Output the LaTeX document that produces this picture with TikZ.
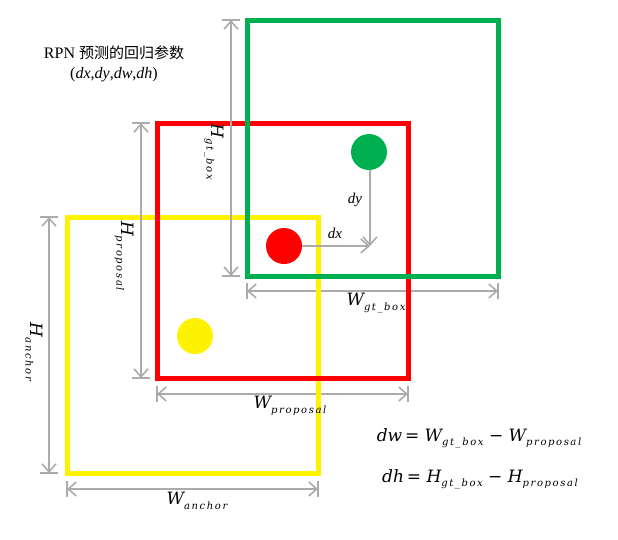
\documentclass[tikz,border=0pt]{standalone}
\usepackage{fontspec}
\setmainfont{Liberation Serif}
\newfontfamily\cjk{Noto Sans CJK SC}
\newfontfamily\labf{DejaVu Serif}
\newfontfamily\subf{DejaVu Serif}[LetterSpace=16]
\usetikzlibrary{arrows.meta,calc}
\definecolor{boxgreen}{HTML}{00B050}
\definecolor{dimgray}{HTML}{ABABAB}
\newcommand{\symb}[2]{{\labf\itshape\fontsize{17}{17}\selectfont #1}{\subf\itshape\fontsize{10}{10}\selectfont\raisebox{-4.5pt}{#2}}}
\pgfdeclarelayer{bg}
\pgfsetlayers{bg,main}
\begin{document}
\begin{tikzpicture}[x=1pt,y=-1pt,
  box/.style={draw, line width=5pt, inner sep=0, outer sep=0, minimum width=251pt, minimum height=256pt},
  dot/.style={circle, inner sep=0, outer sep=0, minimum size=36pt},
  dimline/.style={draw=dimgray, line width=1.6pt, {Straight Barb[length=8pt,width=14pt]}-{Straight Barb[length=8pt,width=14pt]}},
  tickline/.style={draw=dimgray, line width=1.6pt},
  moveline/.style={draw=dimgray, line width=1.6pt, -{Straight Barb[length=8pt,width=14pt]}},
  lbl/.style={inner sep=0, outer sep=0}]
\useasboundingbox (0,0) rectangle (618,539);

% boxes
\node[box, draw=yellow] (anc) at (192.5,345) {};
\node[box, draw=red, minimum height=255pt] (prop) at (282.5,250.5) {};
\node[box, draw=boxgreen] (gt) at (372.5,148) {};

% dots
\node[dot, fill=yellow] (ydot) at (195,336) {};
\node[dot, fill=red] (rdot) at (284,246) {};
\node[dot, fill=boxgreen] (gdot) at (369,152) {};

% offsets
\coordinate (meet) at (370,246);
\draw[moveline] (rdot.east) -- (meet);
\draw[moveline] (gdot.south -| meet) -- (meet);
\node[lbl, font=\fontsize{15}{15}\selectfont\itshape] (dxl) at (335,233) {dx};
\node[lbl, font=\fontsize{15}{15}\selectfont\itshape] (dyl) at (355,200) {dy};

% H gt_box
\coordinate (hg1) at ([xshift=-16pt]gt.north west);
\coordinate (hg2) at ([xshift=-16pt]gt.south west);
\draw[dimline] (hg1) -- (hg2);
\draw[tickline] ([xshift=-9pt]hg1) -- ([xshift=9pt]hg1);
\draw[tickline] ([xshift=-9pt]hg2) -- ([xshift=9pt]hg2);
\node[lbl, rotate=-90] (hgl) at (214,152) {\symb{H}{gt\_box}};

% W gt_box
\begin{pgfonlayer}{bg}
\coordinate (wg1) at ([yshift=-15pt]gt.south west);
\coordinate (wg2) at ([yshift=-15pt]gt.south east);
\draw[dimline] (wg1) -- (wg2);
\draw[tickline] ([yshift=-8pt]wg1) -- ([yshift=8pt]wg1);
\draw[tickline] ([yshift=-8pt]wg2) -- ([yshift=8pt]wg2);
\end{pgfonlayer}
\node[lbl] (wgl) at (376,303) {\symb{W}{gt\_box}};

% H proposal
\coordinate (hp1) at ([xshift=-16pt]prop.north west);
\coordinate (hp2) at ([xshift=-16pt]prop.south west);
\draw[dimline] (hp1) -- (hp2);
\draw[tickline] ([xshift=-9pt]hp1) -- ([xshift=9pt]hp1);
\draw[tickline] ([xshift=-9pt]hp2) -- ([xshift=9pt]hp2);
\node[lbl, rotate=-90] (hpl) at (124,256) {\symb{H}{proposal}};

% W proposal
\begin{pgfonlayer}{bg}
\coordinate (wp1) at ([yshift=-16pt]prop.south west);
\coordinate (wp2) at ([yshift=-16pt]prop.south east);
\draw[dimline] (wp1) -- (wp2);
\draw[tickline] ([yshift=-8pt]wp1) -- ([yshift=8pt]wp1);
\draw[tickline] ([yshift=-8pt]wp2) -- ([yshift=8pt]wp2);
\end{pgfonlayer}
\node[lbl] (wpl) at (290,406) {\symb{W}{proposal}};

% H anchor
\coordinate (ha1) at ([xshift=-18pt]anc.north west);
\coordinate (ha2) at ([xshift=-18pt]anc.south west);
\draw[dimline] (ha1) -- (ha2);
\draw[tickline] ([xshift=-9pt]ha1) -- ([xshift=9pt]ha1);
\draw[tickline] ([xshift=-9pt]ha2) -- ([xshift=9pt]ha2);
\node[lbl, rotate=-90] (hal) at (34,352) {\symb{H}{anchor}};

% W anchor
\coordinate (wa1) at ([yshift=-16pt]anc.south west);
\coordinate (wa2) at ([yshift=-16pt]anc.south east);
\draw[dimline] (wa1) -- (wa2);
\draw[tickline] ([yshift=-8pt]wa1) -- ([yshift=8pt]wa1);
\draw[tickline] ([yshift=-8pt]wa2) -- ([yshift=8pt]wa2);
\node[lbl] (wal) at (197,501) {\symb{W}{anchor}};

% title
\node[lbl, font=\fontsize{16}{16}\selectfont] (t1) at (114,53) {RPN {\cjk\fontsize{15}{15}\selectfont 预测的回归参数}};
\node[lbl, font=\fontsize{16}{16}\selectfont] (t2) at (114,75) {(\textit{dx},\textit{dy},\textit{dw},\textit{dh})};

% formulas
\node[lbl] (f1) at (479,438) {{\labf\itshape\fontsize{17}{17}\selectfont dw\,}{\labf\fontsize{17}{17}\selectfont = }\symb{W}{gt\_box}{\labf\fontsize{17}{17}\selectfont\ − }\symb{W}{proposal}};
\node[lbl] (f2) at (480,479) {{\labf\itshape\fontsize{17}{17}\selectfont dh\,}{\labf\fontsize{17}{17}\selectfont = }\symb{H}{gt\_box}{\labf\fontsize{17}{17}\selectfont\ − }\symb{H}{proposal}};
\end{tikzpicture}
\end{document}
